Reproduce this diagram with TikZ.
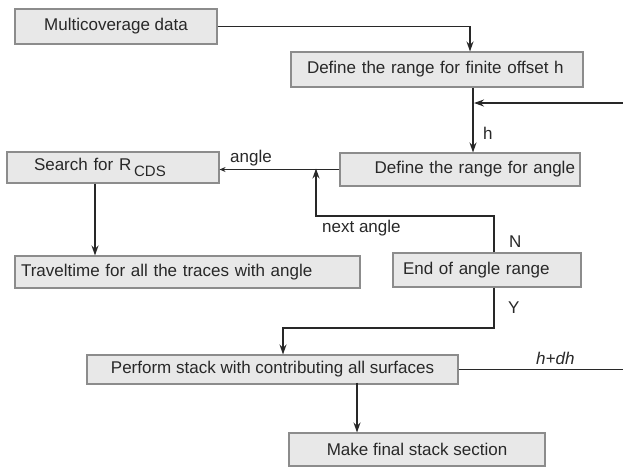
\documentclass[tikz,border=0pt]{standalone}
\usepackage{fontspec}
\setmainfont{Liberation Sans}
\usetikzlibrary{arrows.meta}
\definecolor{boxfill}{RGB}{232,232,232}
\definecolor{boxline}{RGB}{140,140,140}
\definecolor{linecol}{RGB}{40,40,40}
\tikzset{
  stepbox/.style={draw=boxline, fill=boxfill, line width=1.1pt, inner ysep=0pt,
    font=\fontsize{17}{20}\selectfont, text=linecol},
  arr/.style={draw=linecol, line width=1.3pt, -{Stealth[length=10pt,width=7pt]}},
  smallarr/.style={draw=linecol, line width=1.3pt, -{Stealth[length=6pt,width=5pt]}},
  plain/.style={draw=linecol, line width=1.3pt},
  lbl/.style={font=\fontsize{17}{20}\selectfont, text=linecol, inner sep=0pt}
}
\begin{document}
\begin{tikzpicture}[x=1pt,y=-1pt]
\useasboundingbox (0,0) rectangle (623,467);

% process boxes
\node[stepbox, minimum width=202pt, minimum height=35pt] (multi) at (116,26.5) {Multicoverage data};
\node[stepbox, minimum height=35pt, inner xsep=16pt, text width=260pt, align=left] (offset) at (437,69.5) {Define the range for finite offset h};
\node[stepbox, minimum height=33pt, inner xsep=5pt, text width=230pt, align=right] (angle) at (460,169.5) {Define the range for angle};
\node[stepbox, minimum height=31pt, inner xsep=27pt, text width=158pt, align=left] (search) at (113,167.5) {Search for R\,{\fontsize{15}{15}\selectfont\raisebox{-6pt}{CDS}}};
\node[stepbox, minimum height=32pt, inner xsep=6pt, text width=333pt, align=left] (travel) at (187.5,272) {Traveltime for all the traces with angle};
\node[stepbox, minimum height=34pt, inner xsep=10pt, text width=168pt, align=left] (endr) at (487,270) {End of angle range};
\node[stepbox, minimum width=371pt, minimum height=29pt] (perform) at (272.5,369.5) {Perform stack with contributing all surfaces};
\node[stepbox, minimum width=256pt, minimum height=33pt] (final) at (417,449.5) {Make final stack section};

% reference points for the connectors
\coordinate (mx) at (470,0);
\coordinate (hx) at (473,0);
\coordinate (fbR) at (623,103);
\coordinate (sx) at (95,0);
\coordinate (nx) at (494,0);
\coordinate (nturn) at (316,216);
\coordinate (yturn) at (283,328);
\coordinate (pR) at (623,369.5);
\coordinate (fx) at (357,0);

% connectors
\draw[arr] (multi.east) -| (offset.north -| mx);
\draw[arr] (offset.south -| hx) -- (angle.north -| hx);
\draw[arr] (fbR) -- ([xshift=1pt]fbR -| hx);
\draw[smallarr] (angle.west) -- (angle.west -| search.east);
\draw[arr] (search.south -| sx) -- (travel.north -| sx);
\draw[arr] (endr.north -| nx) |- (nturn) -- ([yshift=1pt]nturn |- angle.west);
\draw[arr] (endr.south -| nx) |- (yturn) -- (yturn |- perform.north);
\draw[plain] (perform.east) -- (pR);
\draw[arr] ([yshift=2pt]perform.south -| fx) -- (final.north -| fx);

% connector labels
\node[lbl, anchor=west] (lh) at (483,133) {h};
\node[lbl, anchor=west] (lang) at (230,158) {angle};
\node[lbl, anchor=west] (lnext) at (322,228) {next angle};
\node[lbl, anchor=west] (lN) at (509,242) {N};
\node[lbl, anchor=west] (lY) at (508,308) {Y};
\node[lbl, anchor=west, font=\fontsize{17}{20}\selectfont\itshape] (ldh) at (536,358) {h+dh};
\end{tikzpicture}
\end{document}
